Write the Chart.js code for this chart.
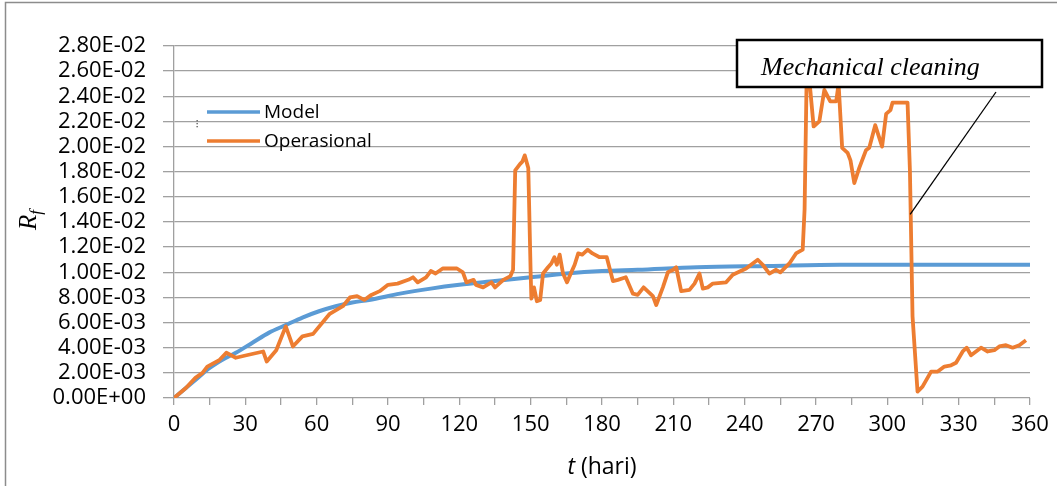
<!DOCTYPE html>
<html>
<head>
<meta charset="utf-8">
<script src="https://cdn.jsdelivr.net/npm/chart.js@4.4.1/dist/chart.umd.min.js"></script>
<style>
  html, body { margin: 0; padding: 0; background: #fff; }
  #wrap { width: 1057px; height: 486px; }
</style>
</head>
<body>
<div id="wrap"><canvas id="rfChart" width="1057" height="486"></canvas></div>
<script>
// t (hari) and Rf
const modelDays = [0, 5, 10, 15, 20, 26, 33, 40, 47, 54, 61, 68, 75, 82, 95, 108, 120, 135, 150, 165, 180, 195, 220, 250, 280, 320, 360];
const modelRf = [0, 0.0008, 0.0016, 0.0024, 0.0030, 0.0036, 0.0044, 0.0052, 0.0058, 0.0064, 0.0069, 0.0073, 0.0076, 0.0078, 0.0083, 0.0087, 0.0090, 0.0093, 0.0096, 0.0099, 0.0101, 0.0102, 0.0104, 0.0105, 0.0106, 0.0106, 0.0106];

const opsDays = [0, 5, 9, 12, 14, 19, 22, 26, 30.5, 37.5, 39, 43, 47, 50, 54, 58.5, 65.5, 71, 74, 77, 80, 83, 86.5, 90, 94, 98.5,
  100.5, 102.5, 106, 108, 110, 113, 119, 121.5, 123, 126, 127, 130, 133.5, 135, 138.5, 141.5, 142.6, 143.5, 145.5, 146.5, 147.5, 149,
  150, 150.3, 151.4, 152.6, 154, 155.2, 157.3, 158.7, 160, 161, 162.2, 163.6, 165.3, 167.1, 168.5, 170, 171.7, 174, 176, 179, 182,
  184.6, 186.7, 190, 193, 195, 197.5, 201.4, 202.8, 205.6, 207.7, 210, 211.2, 213.3, 216.8, 218.9, 221, 222.4, 224.5, 226.6, 232.2,
  235, 240.6, 242.7, 245.5, 247.6, 250.4, 253.2, 255, 258.8, 261.6, 264.4, 265.2, 266, 267.5, 269, 271.4, 273.5, 276, 278.5, 279.5,
  281, 283.3, 284.5, 286.1, 288.2, 291, 292.4, 294.9, 297.8, 299.5, 301.3, 302.2, 308.5, 309.5, 310.6, 312.7, 314.8, 318.4, 321.2,
  324, 326.8, 328.9, 331.7, 333.4, 335.2, 339.4, 342.2, 345, 347.1, 349.9, 352.7, 355.5, 358.3];
const opsRf = [0, 0.0008, 0.0016, 0.0020, 0.0025, 0.0030, 0.0036, 0.0032, 0.0034, 0.0037, 0.0029, 0.0038, 0.0057, 0.0041, 0.0049, 0.0051, 0.0067, 0.0073, 0.0080, 0.0081, 0.0078, 0.0082, 0.0085, 0.0090, 0.0091, 0.0094,
  0.0096, 0.0092, 0.0096, 0.0101, 0.0099, 0.0103, 0.0103, 0.0100, 0.0092, 0.0094, 0.0090, 0.0088, 0.0092, 0.0088, 0.0094, 0.0097, 0.0102, 0.0181, 0.0186, 0.0188, 0.0193, 0.0183,
  0.0099, 0.0079, 0.0088, 0.0077, 0.0078, 0.0099, 0.0104, 0.0107, 0.0112, 0.0106, 0.0114, 0.0099, 0.0092, 0.0100, 0.0106, 0.0115, 0.0114, 0.0118, 0.0115, 0.0112, 0.0112,
  0.0093, 0.0094, 0.0096, 0.0083, 0.0082, 0.0088, 0.0081, 0.0074, 0.0088, 0.0100, 0.0102, 0.0104, 0.0085, 0.0086, 0.0091, 0.0099, 0.0087, 0.0088, 0.0091, 0.0092,
  0.0098, 0.0103, 0.0106, 0.0110, 0.0106, 0.0099, 0.0102, 0.0100, 0.0107, 0.0115, 0.0118, 0.0150, 0.0247, 0.0247, 0.0216, 0.0220, 0.0245, 0.0236, 0.0236, 0.0250,
  0.0199, 0.0195, 0.0189, 0.0171, 0.0183, 0.0197, 0.0199, 0.0217, 0.0200, 0.0226, 0.0229, 0.0235, 0.0235, 0.0181, 0.0065, 0.0005, 0.0009, 0.0021, 0.0021,
  0.0025, 0.0026, 0.0028, 0.0037, 0.0040, 0.0034, 0.0040, 0.0037, 0.0038, 0.0041, 0.0042, 0.0040, 0.0042, 0.0046];

const seriesNames = ['Model', 'Operasional'];
const seriesColors = ['#5B9BD5', '#ED7D31'];
const xTickLabels = ['0', '30', '60', '90', '120', '150', '180', '210', '240', '270', '300', '330', '360'];
const noteText = 'Mechanical cleaning';

const GRID = '#a0a0a0';
const SANS = '"Open Sans", sans-serif';
const SERIF = '"Liberation Serif", "Times New Roman", serif';

function toPoints(xs, ys) {
  return xs.map((x, i) => ({ x: x, y: ys[i] }));
}

// Excel style 2.80E-02
function sciLabel(v) {
  v = Math.round(v * 1e6) / 1e6;
  if (v === 0) return '0.00E+00';
  let e = Math.floor(Math.log10(v) + 1e-9);
  let m = v / Math.pow(10, e);
  if (Number(m.toFixed(2)) >= 10) { m /= 10; e += 1; }
  const sign = e < 0 ? '-' : '+';
  const ex = String(Math.abs(e)).padStart(2, '0');
  return m.toFixed(2) + 'E' + sign + ex;
}

const decorPlugin = {
  id: 'decor',
  afterDraw(chart) {
    const ctx = chart.ctx;
    const xs = chart.scales.x;
    const ys = chart.scales.y;
    ctx.save();

    // outer frame (left and top edges)
    ctx.strokeStyle = '#8c8c8c';
    ctx.lineWidth = 1.5;
    ctx.beginPath();
    ctx.moveTo(5.5, 486);
    ctx.lineTo(5.5, 2.5);
    ctx.lineTo(1057, 2.5);
    ctx.stroke();

    // legend
    const legendY = [112, 141];
    seriesNames.forEach((name, i) => {
      ctx.strokeStyle = seriesColors[i];
      ctx.lineWidth = 3.5;
      ctx.beginPath();
      ctx.moveTo(207, legendY[i]);
      ctx.lineTo(260, legendY[i]);
      ctx.stroke();
      ctx.fillStyle = '#000';
      ctx.font = '19px ' + SANS;
      ctx.textAlign = 'left';
      ctx.textBaseline = 'middle';
      ctx.fillText(name, 264, legendY[i] + 1);
    });
    // small dotted mark left of legend
    ctx.fillStyle = '#555';
    [120, 123, 126].forEach(y => ctx.fillRect(196.5, y, 1.3, 1.3));

    // y axis title R_f
    ctx.save();
    ctx.translate(36, 221);
    ctx.rotate(-Math.PI / 2);
    ctx.fillStyle = '#000';
    ctx.textBaseline = 'alphabetic';
    ctx.textAlign = 'left';
    ctx.font = 'italic 25px ' + SERIF;
    ctx.fillText('R', -9, 0);
    const rw = ctx.measureText('R').width;
    ctx.font = 'italic 17px ' + SERIF;
    ctx.fillText('f', -9 + rw, 5);
    ctx.restore();

    // x axis title t (hari)
    ctx.fillStyle = '#000';
    ctx.textBaseline = 'middle';
    ctx.textAlign = 'left';
    ctx.font = 'italic 23px ' + SANS;
    const tW = ctx.measureText('t').width;
    ctx.font = '23px ' + SANS;
    const restW = ctx.measureText(' (hari)').width;
    const cx = (xs.left + xs.right) / 2;
    let tx = cx - (tW + restW) / 2;
    ctx.font = 'italic 23px ' + SANS;
    ctx.fillText('t', tx, 467);
    ctx.font = '23px ' + SANS;
    ctx.fillText(' (hari)', tx + tW, 467);

    // pointer line to the cleaning drop
    ctx.strokeStyle = '#000';
    ctx.lineWidth = 1.3;
    ctx.beginPath();
    ctx.moveTo(996, 92);
    ctx.lineTo(xs.getPixelForValue(309.6), ys.getPixelForValue(0.0146));
    ctx.stroke();

    // annotation box
    ctx.fillStyle = '#fff';
    ctx.fillRect(737, 40, 305, 47);
    ctx.lineWidth = 2.5;
    ctx.strokeRect(737, 40, 305, 47);
    ctx.fillStyle = '#000';
    ctx.font = 'italic 26px ' + SERIF;
    ctx.textAlign = 'left';
    ctx.textBaseline = 'alphabetic';
    ctx.fillText(noteText, 761, 75);

    ctx.restore();
  }
};

const canvas = document.getElementById('rfChart');
new Chart(canvas, {
  type: 'scatter',
  data: {
    datasets: [
      {
        label: seriesNames[1],
        data: toPoints(opsDays, opsRf),
        showLine: true,
        borderColor: seriesColors[1],
        borderWidth: 3.8,
        pointRadius: 0,
        tension: 0,
        borderJoinStyle: 'round',
        order: 0
      },
      {
        label: seriesNames[0],
        data: toPoints(modelDays, modelRf),
        showLine: true,
        borderColor: seriesColors[0],
        borderWidth: 4,
        pointRadius: 0,
        cubicInterpolationMode: 'monotone',
        order: 1
      }
    ]
  },
  options: {
    responsive: false,
    animation: false,
    events: [],
    layout: {
      padding: { left: 0, top: 46, right: 27, bottom: 0 }
    },
    plugins: {
      legend: { display: false },
      tooltip: { enabled: false }
    },
    scales: {
      x: {
        type: 'linear',
        min: 0,
        max: 360,
        afterFit: scale => { scale.height = 88; },
        grid: {
          drawOnChartArea: false,
          drawTicks: true,
          tickLength: 7,
          color: GRID,
          lineWidth: 1.3
        },
        border: { display: false },
        ticks: {
          stepSize: 15,
          autoSkip: false,
          maxRotation: 0,
          padding: 7,
          color: '#000',
          font: { family: SANS, size: 22 },
          callback: v => (v % 30 === 0 ? xTickLabels[v / 30] : '')
        }
      },
      y: {
        type: 'linear',
        min: 0,
        max: 0.028,
        afterFit: scale => { scale.width = 174; },
        grid: {
          color: GRID,
          lineWidth: 1.3,
          tickLength: 11
        },
        border: { display: true, color: GRID, width: 1.3 },
        ticks: {
          stepSize: 0.002,
          autoSkip: false,
          padding: 17,
          color: '#000',
          font: { family: SANS, size: 22 },
          callback: v => sciLabel(v)
        }
      }
    }
  },
  plugins: [decorPlugin]
});
</script>
</body>
</html>
